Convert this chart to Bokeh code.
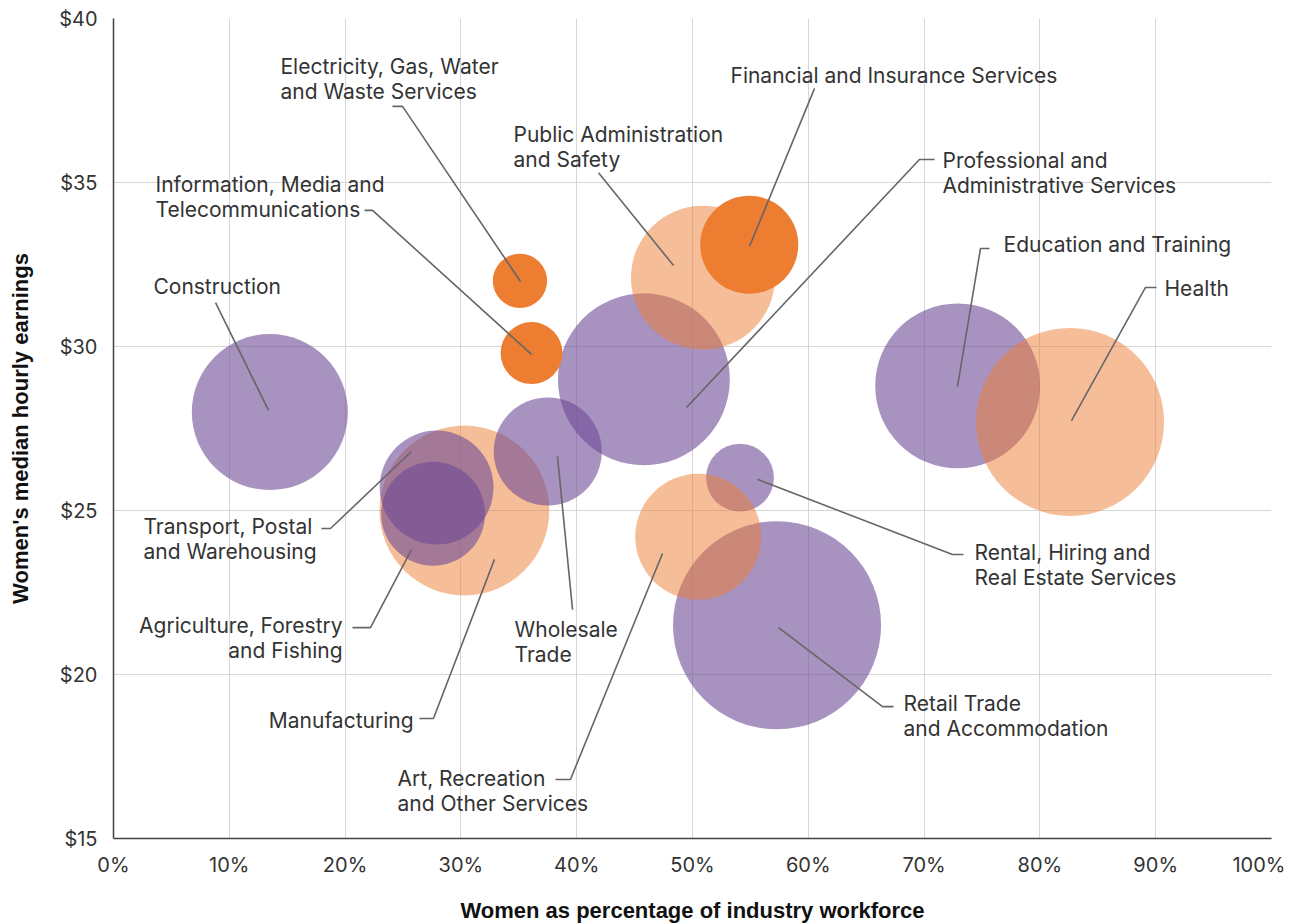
import numpy as np
from bokeh.plotting import figure
from bokeh.models import ColumnDataSource, FixedTicker, PrintfTickFormatter
from bokeh.core.properties import value
from bokeh.embed import file_html
from bokeh.resources import INLINE

# ---------------- data (drawing order) ----------------
industries = [
    "Construction", "Professional and Administrative Services", "Education and Training",
    "Retail Trade and Accommodation", "Rental, Hiring and Real Estate Services",
    "Manufacturing", "Public Administration and Safety", "Health",
    "Art, Recreation and Other Services", "Transport, Postal and Warehousing",
    "Agriculture, Forestry and Fishing", "Wholesale Trade",
    "Electricity, Gas, Water and Waste Services",
    "Information, Media and Telecommunications", "Financial and Insurance Services",
]
women_pct = [13.5, 45.8, 72.9, 57.3, 54.1, 30.3, 50.9, 82.6, 50.5, 27.9, 27.6, 37.5, 35.1, 36.1, 54.9]
median_hourly = [28.0, 29.0, 28.8, 21.5, 26.0, 25.0, 32.1, 27.7, 24.2, 25.7, 24.9, 26.8, 32.0, 29.8, 33.1]
employed_k = [1240, 1505, 1385, 2205, 235, 1470, 1055, 1800, 810, 660, 550, 595, 150, 195, 490]
group = ["purple", "purple", "purple", "purple", "purple",
         "light", "light", "light", "light",
         "purple", "purple", "purple",
         "dark", "dark", "dark"]

x_ticks = [0, 10, 20, 30, 40, 50, 60, 70, 80, 90, 100]
y_ticks = [15, 20, 25, 30, 35, 40]

# ---------------- annotation layout (data units) ----------------
label_text = [
    "Construction", "Professional and\nAdministrative Services", "Education and Training",
    "Retail Trade\nand Accommodation", "Rental, Hiring and\nReal Estate Services",
    "Manufacturing", "Public Administration\nand Safety", "Health",
    "Art, Recreation\nand Other Services", "Transport, Postal\nand Warehousing",
    "Agriculture, Forestry\nand Fishing", "Wholesale\nTrade",
    "Electricity, Gas, Water\nand Waste Services",
    "Information, Media and\nTelecommunications", "Financial and Insurance Services",
]
label_x = [3.45, 71.59, 76.86, 68.22, 74.35, 25.91, 34.54, 90.76, 24.53, 2.59, 19.78, 34.63, 14.42, 3.63, 53.28]
label_y = [31.83, 35.30, 33.11, 18.72, 23.35, 18.60, 36.07, 31.77, 16.46, 24.12, 21.10, 20.98, 38.17, 34.57, 38.26]
label_align = ["left", "left", "left", "left", "left", "right", "left", "left", "left", "left",
               "right", "left", "left", "left", "left"]

leader_xs = [
    [8.81, 13.39],
    [70.90, 69.60, 49.48],
    [75.65, 74.87, 72.88],
    [67.36, 66.41, 57.43],
    [73.40, 72.45, 55.61],
    [26.42, 27.63, 32.90],
    [41.88, 48.36],
    [90.07, 89.12, 82.73],
    [38.17, 39.46, 47.41],
    [17.96, 18.74, 25.73],
    [20.64, 22.19, 25.73],
    [39.64, 38.34],
    [24.09, 24.96, 35.15],
    [21.68, 22.37, 36.10],
    [60.54, 54.92],
]
leader_ys = [
    [31.34, 28.05],
    [35.70, 35.70, 28.14],
    [32.99, 32.99, 28.78],
    [19.02, 19.02, 21.43],
    [23.66, 23.66, 25.95],
    [18.66, 18.66, 23.51],
    [35.30, 32.47],
    [31.80, 31.80, 27.74],
    [16.80, 16.80, 23.69],
    [24.45, 24.45, 26.80],
    [21.43, 21.43, 23.81],
    [21.98, 26.65],
    [37.32, 37.32, 31.98],
    [34.15, 34.15, 29.76],
    [37.87, 33.05],
]

# ---------------- styling ----------------
palette = {"purple": "#6E4996", "light": "#ED7D31", "dark": "#ED7D31"}
alphas = {"purple": 0.6, "light": 0.5, "dark": 1.0}
px_per_sqrt_k = 2.2156  # bubble radius in px per sqrt(thousand employed)

src = ColumnDataSource(dict(
    x=women_pct, y=median_hourly,
    size=[2 * px_per_sqrt_k * np.sqrt(e) for e in employed_k],
    color=[palette[g] for g in group],
    alpha=[alphas[g] for g in group],
    name=industries,
))

p = figure(
    frame_width=1158, frame_height=820,
    x_range=(0, 100), y_range=(15, 40),
    output_backend="svg", toolbar_location=None,
    min_border_left=100, min_border_top=18, min_border_right=14, min_border_bottom=78,
)
p.margin = (0, 0, 0, 5)
p.outline_line_color = None
p.background_fill_color = "white"

for ax in (p.xaxis, p.yaxis):
    ax.major_tick_line_color = None
    ax.minor_tick_line_color = None
    ax.axis_line_color = "#404040"
    ax.axis_line_width = 1.5
    ax.major_label_text_font = "Inter"
    ax.major_label_text_font_size = "20px"
    ax.major_label_text_color = "#333333"
    ax.axis_label_text_font = "Liberation Sans"
    ax.axis_label_text_font_style = "bold"
    ax.axis_label_text_font_size = "22px"
    ax.axis_label_text_color = "#111111"

p.xaxis.ticker = FixedTicker(ticks=x_ticks)
p.yaxis.ticker = FixedTicker(ticks=y_ticks)
p.xaxis.formatter = PrintfTickFormatter(format="%d%%")
p.yaxis.formatter = PrintfTickFormatter(format="$%d")
p.xaxis.axis_label = "Women as percentage of industry workforce"
p.yaxis.axis_label = "Women's median hourly earnings"
p.xaxis.major_label_standoff = 8
p.yaxis.major_label_standoff = 10
p.xaxis.axis_label_standoff = 18
p.yaxis.axis_label_standoff = 23

p.xgrid.grid_line_color = "#d6d6d6"
p.ygrid.grid_line_color = "#d6d6d6"
p.xgrid.grid_line_width = 1
p.ygrid.grid_line_width = 1

p.scatter("x", "y", size="size", marker="circle", fill_color="color", fill_alpha="alpha",
          line_color=None, source=src)

p.multi_line(xs=leader_xs, ys=leader_ys, line_color="#666666", line_width=1.6)

lab = ColumnDataSource(dict(x=label_x, y=label_y, text=label_text, align=label_align))
p.text("x", "y", text="text", source=lab, text_align="align", text_baseline="middle",
       text_font=value("Inter"), text_font_size="21px", text_color="#333333",
       text_line_height=1.0)

open("out.html", "w").write(file_html(p, INLINE))
